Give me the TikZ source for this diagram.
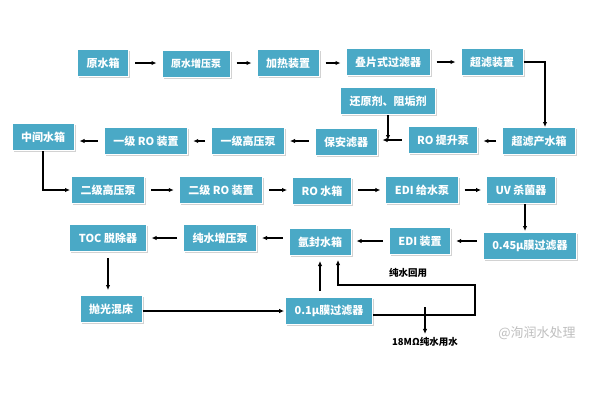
\documentclass[tikz,border=0pt]{standalone}
\usepackage{fontspec}
\setmainfont{Noto Sans CJK SC}
\usetikzlibrary{arrows.meta,shadows}
\definecolor{boxblue}{HTML}{4AA9C6}

\begin{document}
\begin{tikzpicture}[x=1pt,y=-1pt,
            box/.style={fill=boxblue,draw=white,line width=1pt,text=white,font=\fontsize{11}{12}\selectfont\bfseries,
                minimum height=27pt,inner xsep=9pt,drop shadow={shadow xshift=1.5pt,shadow yshift=-1.5pt,opacity=.35,fill=gray}},
            arr/.style={-{Latex[length=5pt,width=4.5pt]},line width=1.3pt},
            gap/.style={shorten <=6pt,shorten >=5pt},
            lbl/.style={font=\fontsize{9.5}{11}\selectfont\bfseries}]
            \fill[white] (0,0) rectangle (600,400);
            \node[box] (yxs) at (103,63) {原水箱};
            \node[box,font=\fontsize{10}{12}\selectfont\bfseries] (yzyb) at (196,64) {原水增压泵};
            \node[box] (jr) at (288,63) {加热装置};
            \node[box] (dp) at (388,62) {叠片式过滤器};
            \node[box] (cl) at (492,62) {超滤装置};
            \node[box] (hy) at (388,101) {还原剂、阻垢剂};
            \node[box] (zj) at (43,137) {中间水箱};
            \node[box] (ro1) at (146,141) {一级 RO 装置};
            \node[box] (gy1) at (248,141) {一级高压泵};
            \node[box] (ba) at (346,142) {保安滤器};
            \node[box] (ts) at (443,140) {RO 提升泵};
            \node[box] (cc) at (539,141) {超滤产水箱};
            \node[box] (gy2) at (108,190) {二级高压泵};
            \node[box] (ro2) at (221,190) {二级 RO 装置};
            \node[box] (rox) at (322,191) {RO 水箱};
            \node[box] (edib) at (422,190) {EDI 给水泵};
            \node[box] (uv) at (521,190) {UV 杀菌器};
            \node[box] (toc) at (108,238) {TOC 脱除器};
            \node[box] (czy) at (220,238) {纯水增压泵};
            \node[box] (af) at (320,242) {氩封水箱};
            \node[box] (edi) at (420,241) {EDI 装置};
            \node[box] (m45) at (530,246) {0.45μ膜过滤器};
            \node[box] (pg) at (111,309) {抛光混床};
            \node[box] (m01) at (329,311) {0.1μ膜过滤器};
            \node[lbl] (hyong) at (408,273) {纯水回用};
            \node[lbl] (yong) at (425,342) {18MΩ纯水用水};
            \node[text=black!25,font=\fontsize{13}{14}\selectfont] (wm) at (537,333) {@洵润水处理};
            \draw[arr,gap] (yxs.east) -- (yzyb.west |- yxs.east);
            \draw[arr,gap] (yzyb.east |- jr.west) -- (jr.west);
            \draw[arr,gap] (jr.east) -- (dp.west |- jr.east);
            \draw[arr,gap] (dp.east) -- (cl.west |- dp.east);
            \draw[arr] (cl.east) -| ([xshift=6pt]cc.north);
            \draw[arr,gap] (cc.west) -- (ts.east |- cc.west);
            \draw[arr,gap] (ts.west) -- (ba.east |- ts.west);
            \draw[arr] (hy.south) -- (hy.south |- ts.west);
            \draw[arr,gap] (ba.west |- gy1.east) -- (gy1.east);
            \draw[arr,gap] (gy1.west) -- (ro1.east |- gy1.west);
            \draw[arr,gap] (ro1.west) -- (zj.east |- ro1.west);
            \draw[arr,shorten >=1pt] (zj.south) |- (gy2.west);
            \draw[arr,gap] (gy2.east) -- (ro2.west |- gy2.east);
            \draw[arr,gap] (ro2.east) -- (rox.west |- ro2.east);
            \draw[arr,gap] (rox.east |- edib.west) -- (edib.west);
            \draw[arr,gap] (edib.east) -- (uv.west |- edib.east);
            \draw[arr,shorten >=1pt] ([xshift=4pt]uv.south) -- ([xshift=4pt]uv.south |- m45.north);
            \draw[arr,gap] (m45.west |- edi.east) -- (edi.east);
            \draw[arr,gap] (edi.west) -- (af.east |- edi.west);
            \draw[arr,gap] (af.west |- czy.east) -- (czy.east);
            \draw[arr,gap] (czy.west) -- (toc.east |- czy.west);
            \draw[arr,gap] (toc.south) -- (toc.south |- pg.north);
            \draw[arr,shorten >=1pt] ([yshift=-2pt]pg.east) -- ([yshift=-2pt]m01.west |- pg.east);
            \draw[arr,gap] (af.south |- m01.north) -- (af.south);
            \coordinate (back) at (475,285);
            \draw[arr,shorten >=4pt] ([yshift=-4pt]m01.east) -| (back) -| ([xshift=18pt]af.south);
            \draw[arr] (yong.north |- m01.east) ++(0,-4) -- (yong.north);
        \end{tikzpicture}
\end{document}
